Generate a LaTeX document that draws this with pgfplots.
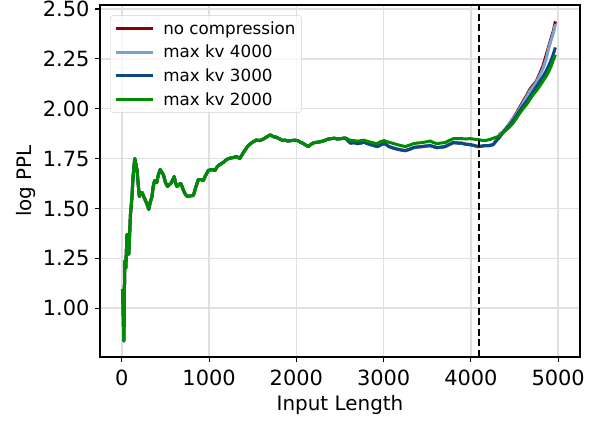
\documentclass[border=0pt]{standalone}
\usepackage{fontspec}
\setmainfont{DejaVu Sans}
\usepackage{pgfplots}
\usepackage{pgfplotstable}
\pgfplotsset{compat=1.18}

\definecolor{cNone}{RGB}{139,0,0}
\definecolor{cKvA}{RGB}{122,162,208}
\definecolor{cKvB}{RGB}{12,72,130}
\definecolor{cKvC}{RGB}{0,140,0}
\definecolor{cGrid}{RGB}{224,224,224}

\pgfplotsset{
    longline/.style={legend image code/.code={%
        \draw[##1, line width=3bp] (0bp,0bp) -- (37bp,0bp);
        \path (44bp,0bp);}},
}

% x, no compression, kv4000, kv3000, kv2000
\pgfplotstableread{
x    none   kva    kvb    kvc
0    1.086  1.086  1.086  1.086
10   1.090  1.090  1.090  1.090
23   0.835  0.835  0.835  0.835
34   1.237  1.237  1.237  1.237
45   1.200  1.200  1.200  1.200
60   1.370  1.370  1.370  1.370
80   1.270  1.270  1.270  1.270
99   1.470  1.470  1.470  1.470
115  1.550  1.550  1.550  1.550
129  1.660  1.660  1.660  1.660
148  1.750  1.750  1.750  1.750
162  1.720  1.720  1.720  1.720
175  1.690  1.690  1.690  1.690
188  1.620  1.620  1.620  1.620
201  1.560  1.560  1.560  1.560
215  1.575  1.575  1.575  1.575
232  1.580  1.580  1.580  1.580
250  1.560  1.560  1.560  1.560
270  1.540  1.540  1.540  1.540
290  1.520  1.520  1.520  1.520
308  1.495  1.495  1.495  1.495
325  1.530  1.530  1.530  1.530
345  1.557  1.557  1.557  1.557
360  1.610  1.610  1.610  1.610
376  1.640  1.640  1.640  1.640
400  1.630  1.630  1.630  1.630
420  1.670  1.670  1.670  1.670
440  1.695  1.695  1.695  1.695
460  1.680  1.680  1.680  1.680
478  1.667  1.667  1.667  1.667
500  1.630  1.630  1.630  1.630
524  1.610  1.610  1.610  1.610
545  1.620  1.620  1.620  1.620
562  1.625  1.625  1.625  1.625
580  1.640  1.640  1.640  1.640
600  1.660  1.660  1.660  1.660
615  1.630  1.630  1.630  1.630
631  1.610  1.610  1.610  1.610
655  1.620  1.620  1.620  1.620
676  1.625  1.625  1.625  1.625
690  1.610  1.610  1.610  1.610
706  1.590  1.590  1.590  1.590
730  1.570  1.570  1.570  1.570
752  1.560  1.560  1.560  1.560
785  1.563  1.563  1.563  1.563
820  1.565  1.565  1.565  1.565
850  1.610  1.610  1.610  1.610
877  1.645  1.645  1.645  1.645
905  1.645  1.645  1.645  1.645
934  1.640  1.640  1.640  1.640
960  1.665  1.665  1.665  1.665
991  1.690  1.690  1.690  1.690
1030 1.695  1.695  1.695  1.695
1067 1.690  1.690  1.690  1.690
1095 1.710  1.710  1.710  1.710
1124 1.720  1.720  1.720  1.720
1160 1.730  1.730  1.730  1.730
1200 1.745  1.745  1.745  1.745
1240 1.752  1.752  1.752  1.752
1276 1.755  1.755  1.755  1.755
1315 1.760  1.760  1.760  1.760
1352 1.750  1.750  1.750  1.750
1400 1.785  1.785  1.785  1.785
1446 1.813  1.813  1.813  1.813
1490 1.830  1.830  1.830  1.830
1541 1.843  1.843  1.843  1.843
1580 1.840  1.840  1.840  1.840
1617 1.847  1.847  1.847  1.847
1660 1.858  1.858  1.858  1.858
1700 1.869  1.869  1.869  1.869
1735 1.860  1.860  1.860  1.860
1769 1.857  1.857  1.857  1.857
1800 1.850  1.850  1.850  1.850
1845 1.840  1.840  1.840  1.840
1864 1.843  1.843  1.843  1.843
1900 1.838  1.838  1.838  1.838
1940 1.840  1.840  1.840  1.840
1980 1.842  1.842  1.842  1.842
2016 1.840  1.840  1.840  1.840
2045 1.832  1.832  1.832  1.832
2073 1.827  1.827  1.827  1.827
2105 1.818  1.818  1.818  1.818
2138 1.810  1.810  1.810  1.810
2170 1.822  1.822  1.822  1.822
2206 1.830  1.830  1.830  1.830
2245 1.832  1.832  1.832  1.832
2282 1.835  1.835  1.835  1.835
2320 1.840  1.840  1.840  1.840
2358 1.847  1.847  1.847  1.847
2400 1.850  1.850  1.850  1.850
2434 1.852  1.852  1.852  1.852
2470 1.848  1.848  1.848  1.848
2510 1.850  1.850  1.850  1.850
2540 1.852  1.852  1.852  1.852
2566 1.852  1.852  1.852  1.852
2600 1.835  1.835  1.835  1.845
2623 1.827  1.827  1.827  1.840
2660 1.830  1.830  1.830  1.840
2700 1.825  1.825  1.825  1.837
2740 1.828  1.828  1.828  1.840
2775 1.832  1.832  1.832  1.842
2815 1.825  1.825  1.825  1.836
2851 1.820  1.820  1.820  1.832
2890 1.815  1.815  1.815  1.828
2927 1.810  1.810  1.810  1.825
2965 1.818  1.818  1.818  1.835
3003 1.825  1.825  1.825  1.840
3030 1.820  1.820  1.820  1.836
3060 1.810  1.810  1.810  1.832
3110 1.803  1.803  1.803  1.826
3155 1.797  1.797  1.797  1.820
3200 1.793  1.793  1.793  1.815
3250 1.790  1.790  1.790  1.810
3300 1.797  1.797  1.797  1.818
3345 1.805  1.805  1.805  1.825
3390 1.808  1.808  1.808  1.828
3440 1.810  1.810  1.810  1.830
3490 1.813  1.813  1.813  1.834
3534 1.815  1.815  1.815  1.838
3570 1.810  1.810  1.810  1.830
3610 1.805  1.805  1.805  1.825
3660 1.807  1.807  1.807  1.828
3705 1.810  1.810  1.810  1.830
3750 1.820  1.820  1.820  1.840
3801 1.830  1.830  1.830  1.850
3850 1.828  1.828  1.828  1.850
3895 1.827  1.827  1.827  1.850
3940 1.822  1.822  1.822  1.848
3990 1.820  1.820  1.820  1.850
4040 1.815  1.815  1.815  1.847
4085 1.810  1.810  1.810  1.845
4120 1.812  1.812  1.812  1.842
4161 1.815  1.815  1.815  1.840
4210 1.815  1.815  1.815  1.845
4256 1.820  1.820  1.820  1.852
4294 1.845  1.843  1.840  1.858
4332 1.872  1.868  1.858  1.864
4370 1.885  1.883  1.882  1.880
4408 1.905  1.903  1.900  1.894
4446 1.928  1.925  1.918  1.910
4484 1.952  1.948  1.940  1.928
4522 1.978  1.973  1.965  1.952
4560 2.008  2.000  1.990  1.978
4598 2.037  2.030  2.015  2.000
4636 2.065  2.058  2.035  2.020
4674 2.096  2.088  2.060  2.045
4712 2.118  2.110  2.085  2.070
4750 2.138  2.132  2.110  2.090
4787 2.175  2.165  2.135  2.113
4825 2.214  2.200  2.160  2.138
4863 2.270  2.250  2.190  2.163
4890 2.310  2.300  2.215  2.185
4920 2.355  2.345  2.245  2.214
4945 2.390  2.380  2.275  2.245
4968 2.438  2.424  2.307  2.270
}\ppltable

\begin{document}
\begin{tikzpicture}
% page = 590 x 425, axis box 480 x 352 at (100,5) from top-left
\useasboundingbox (-100bp,-68bp) rectangle (490bp,357bp);
\begin{axis}[
    at={(0,0)}, anchor=south west,
    width=480bp, height=352bp,
    scale only axis,
    xmin=-250, xmax=5250,
    ymin=0.755, ymax=2.52,
    xtick={0,1000,2000,3000,4000,5000},
    ytick={1.00,1.25,1.50,1.75,2.00,2.25,2.50},
    /pgf/number format/assume math mode=true,
    tick label style={font=\fontsize{21}{24}\selectfont},
    yticklabel style={xshift=-2bp, /pgf/number format/.cd, fixed, fixed zerofill, precision=2},
    xticklabel style={yshift=-4bp, /pgf/number format/.cd, fixed, 1000 sep={}},
    label style={font=\fontsize{20}{23}\selectfont},
    xlabel={Input Length},
    ylabel={log PPL},
    xlabel style={yshift=-3bp},
    tick pos=left,
    tick align=outside,
    major tick length=5bp,
    tick style={black, line width=1.1bp},
    axis line style={black, line width=1.4bp},
    grid=major,
    major grid style={cGrid, line width=1.4bp},
    legend cell align=left,
    legend style={
        at={(0.021,0.971)}, anchor=north west,
        draw=gray!35, rounded corners=3pt,
        fill=white, fill opacity=0.8, text opacity=1,
        font=\fontsize{16.8}{19.5}\selectfont,
        inner xsep=4bp, inner ysep=4bp, row sep=5.5bp,
    },
    every axis plot/.append style={line width=3bp, line join=round},
]
\addplot[cNone, longline] table[x=x, y=none] {\ppltable};
\addlegendentry{no compression}
\addplot[cKvA, longline] table[x=x, y=kva] {\ppltable};
\addlegendentry{max kv 4000}
\addplot[cKvB, longline] table[x=x, y=kvb] {\ppltable};
\addlegendentry{max kv 3000}
\addplot[cKvC, longline] table[x=x, y=kvc] {\ppltable};
\addlegendentry{max kv 2000}
\addplot[black, line width=1.6bp, dash pattern=on 7bp off 3.5bp, forget plot]
    coordinates {(4096,0.755) (4096,2.52)};
\end{axis}
\end{tikzpicture}
\end{document}
